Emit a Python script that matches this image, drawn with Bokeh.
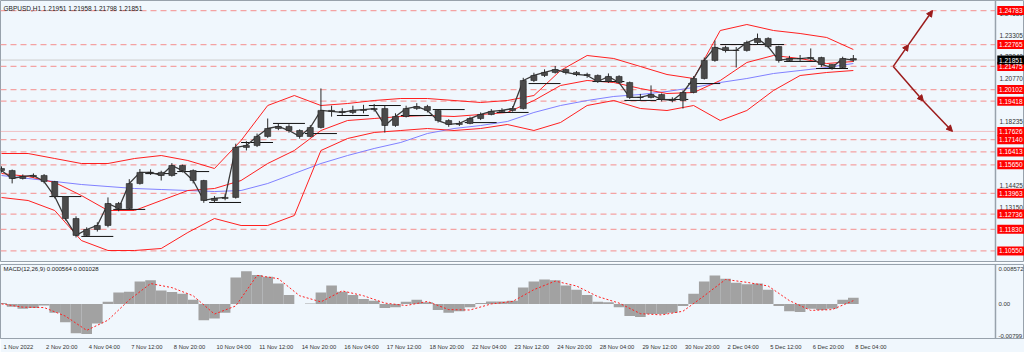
from bokeh.plotting import figure
from bokeh.layouts import column
from bokeh.models import Range1d, FixedTicker, Label, Arrow, NormalHead, Span
from bokeh.embed import file_html
from bokeh.resources import INLINE
from bokeh.core.properties import value

# ---------------- data (H1 bars grouped by 8, bar index 0 = 1 Nov 12:00) ----------------
first_open = 1.1543
close = [1.1531, 1.1484, 1.1496, 1.1502, 1.1466, 1.1377, 1.1247, 1.1147, 1.1182, 1.1206,
         1.1336, 1.1307, 1.1454, 1.1520, 1.1520, 1.1502, 1.1561, 1.1531, 1.1472, 1.1354,
         1.1366, 1.1372, 1.1668, 1.1679, 1.1733, 1.1780, 1.1792, 1.1768, 1.1733, 1.1786,
         1.1887, 1.1881, 1.1875, 1.1887, 1.1892, 1.1898, 1.1798, 1.1851, 1.1898, 1.1910,
         1.1887, 1.1827, 1.1804, 1.1810, 1.1839, 1.1863, 1.1881, 1.1887, 1.1898, 1.2064,
         1.2094, 1.2112, 1.2129, 1.2112, 1.2100, 1.2094, 1.2058, 1.2088, 1.2052, 1.1964,
         1.1964, 1.1981, 1.1952, 1.1946, 1.1993, 1.2076, 1.2183, 1.2260, 1.2242, 1.2242,
         1.2289, 1.2313, 1.2265, 1.2183, 1.2194, 1.2194, 1.2200, 1.2159, 1.2141, 1.2194,
         1.2185]
high = [1.1556, 1.1537, 1.1508, 1.1514, 1.1510, 1.1470, 1.1380, 1.1260, 1.1195, 1.1225,
        1.1372, 1.1345, 1.1480, 1.1540, 1.1538, 1.1530, 1.1575, 1.1566, 1.1538, 1.1476,
        1.1380, 1.1392, 1.1690, 1.1705, 1.1750, 1.1839, 1.1810, 1.1805, 1.1775, 1.1800,
        1.2017, 1.1915, 1.1900, 1.1915, 1.1920, 1.1925, 1.1915, 1.1870, 1.1915, 1.1930,
        1.1920, 1.1892, 1.1835, 1.1825, 1.1850, 1.1875, 1.1895, 1.1900, 1.1912, 1.2080,
        1.2110, 1.2130, 1.2150, 1.2135, 1.2120, 1.2110, 1.2100, 1.2106, 1.2095, 1.2058,
        1.1985, 1.2035, 1.1988, 1.1965, 1.2005, 1.2090, 1.2200, 1.2301, 1.2270, 1.2262,
        1.2300, 1.2342, 1.2320, 1.2270, 1.2210, 1.2215, 1.2254, 1.2205, 1.2160, 1.2205,
        1.2215]
low = [1.1519, 1.1455, 1.1478, 1.1490, 1.1455, 1.1366, 1.1235, 1.1135, 1.1140, 1.1170,
       1.1195, 1.1290, 1.1300, 1.1448, 1.1505, 1.1472, 1.1495, 1.1520, 1.1455, 1.1340,
       1.1340, 1.1355, 1.1365, 1.1650, 1.1670, 1.1725, 1.1770, 1.1755, 1.1720, 1.1728,
       1.1780, 1.1850, 1.1860, 1.1865, 1.1870, 1.1880, 1.1756, 1.1790, 1.1845, 1.1890,
       1.1875, 1.1815, 1.1790, 1.1795, 1.1805, 1.1830, 1.1858, 1.1875, 1.1880, 1.1892,
       1.2055, 1.2085, 1.2105, 1.2100, 1.2090, 1.2080, 1.2050, 1.2050, 1.2045, 1.1955,
       1.1950, 1.1958, 1.1940, 1.1935, 1.1898, 1.1988, 1.2070, 1.2175, 1.2230, 1.2141,
       1.2235, 1.2280, 1.2255, 1.2170, 1.2175, 1.2180, 1.2185, 1.2145, 1.2128, 1.2135,
       1.2175]

# Bollinger bands and slow moving average, read every 20 bars
band_upper = [1.16319, 1.16319, 1.16023, 1.15727, 1.15727, 1.16023, 1.16200, 1.15905, 1.15431, 1.17089,
              1.19161, 1.19753, 1.19161, 1.19279, 1.19457, 1.19575, 1.19575, 1.19457, 1.19339, 1.19457,
              1.19753, 1.21233, 1.22121, 1.21943, 1.21470, 1.20996, 1.20759, 1.23601, 1.23956, 1.23601,
              1.23423, 1.23187, 1.22476]
band_mid = [1.15135, 1.14958, 1.14603, 1.13833, 1.12945, 1.12945, 1.13537, 1.14129, 1.14247, 1.14721,
            1.15727, 1.16497, 1.17681, 1.18273, 1.18391, 1.18510, 1.18569, 1.18510, 1.18628, 1.18747,
            1.19457, 1.20345, 1.20641, 1.20523, 1.20167, 1.19871, 1.19931, 1.20641, 1.21707, 1.22121,
            1.21943, 1.21647, 1.21765]
band_lower = [1.13715, 1.13537, 1.12945, 1.11169, 1.10577, 1.10577, 1.10696, 1.11643, 1.12471, 1.12057,
              1.12057, 1.12649, 1.16497, 1.17207, 1.17563, 1.17681, 1.17799, 1.17681, 1.17799, 1.18036,
              1.17681, 1.18155, 1.19161, 1.19457, 1.18983, 1.18865, 1.19161, 1.18273, 1.18865, 1.20049,
              1.20937, 1.21115, 1.21233]
slow_ma = [1.15017, 1.14839, 1.14662, 1.14484, 1.14365, 1.14247, 1.14188, 1.14129, 1.14069, 1.14129,
           1.14543, 1.15135, 1.15727, 1.16201, 1.16617, 1.16973, 1.17504, 1.17799, 1.17977, 1.18214,
           1.18747, 1.19161, 1.19457, 1.19695, 1.19813, 1.19990, 1.20227, 1.20523, 1.20759, 1.21055,
           1.21233, 1.21411, 1.21647]

# previous-day levels (black steps): start bar, end bar, price
day_start = [36, 60, 84, 108, 132, 156, 180, 204, 228, 252, 276, 300, 324, 348, 372, 396, 444, 468, 492, 516, 540, 564, 588, 612]
day_end = [60, 84, 108, 132, 156, 180, 204, 228, 252, 276, 300, 324, 348, 372, 396, 420, 468, 492, 516, 540, 564, 588, 612, 636]
day_level = [1.1377, 1.1141, 1.1301, 1.1513, 1.1525, 1.1342, 1.1697, 1.1810, 1.1750, 1.1857,
             1.1916, 1.1857, 1.1892, 1.1815, 1.1875, 1.2046, 1.2058, 1.1946, 1.1952, 1.2046,
             1.2277, 1.2277, 1.2177, 1.2135]

# MACD (12,26,9): histogram every 8 bars, signal every 16 bars
macd_hist = [0.0002, -0.0007, -0.0012, -0.0010, -0.0004, -0.0022, -0.0045, -0.0072, -0.0074, -0.0048,
             0.0005, 0.0028, 0.0030, 0.0055, 0.0058, 0.0033, 0.0029, 0.0025, 0.0010, -0.0040,
             -0.0036, -0.0022, 0.0065, 0.0080, 0.0071, 0.0067, 0.0050, 0.0022, 0.0000, 0.0001,
             0.0028, 0.0045, 0.0030, 0.0022, 0.0012, 0.0008, -0.0010, -0.0008, 0.0005, 0.0010,
             0.0004, -0.0015, -0.0022, -0.0018, -0.0008, 0.0002, 0.0006, 0.0006, 0.0008, 0.0040,
             0.0055, 0.0060, 0.0058, 0.0045, 0.0035, 0.0022, 0.0005, 0.0004, -0.0008, -0.0030,
             -0.0032, -0.0025, -0.0025, -0.0022, -0.0005, 0.0025, 0.0055, 0.0070, 0.0062, 0.0052,
             0.0048, 0.0050, 0.0035, -0.0005, -0.0018, -0.0020, -0.0012, -0.0015, -0.0012, 0.0010,
             0.0015]
macd_signal = [0.0000, -0.0008, -0.0009, -0.0030, -0.0065, -0.0040, 0.0010, 0.0050, 0.0040, 0.0020,
               -0.0025, -0.0005, 0.0070, 0.0062, 0.0020, 0.0005, 0.0032, 0.0020, 0.0002, -0.0004,
               0.0006, -0.0014, -0.0015, 0.0000, 0.0006, 0.0035, 0.0056, 0.0044, 0.0018, 0.0002,
               -0.0024, -0.0027, -0.0018, 0.0020, 0.0060, 0.0053, 0.0044, 0.0008, -0.0016, -0.0014,
               0.0008]

# price levels drawn as horizontal lines with red price tags
dashed_levels = [1.24783, 1.22765, 1.21475, 1.20102, 1.19418, 1.17140, 1.16413, 1.15650, 1.13963, 1.12736, 1.11830, 1.10550]
dotted_levels = [1.17626]
bid_price = 1.21851
price_ticks = [1.24580, 1.23305, 1.22040, 1.20770, 1.18235, 1.14425, 1.13150]
macd_ticks = [0.008572, 0.0, -0.00799]
macd_tick_labels = ["0.008572", "0.00", "-0.00799"]

# projection arrows (bar, price)
arrow_vertex = (670, 1.21475)
arrow_up = [(681.5, 1.22765), (699.5, 1.24783)]
arrow_down = [(692.7, 1.19418), (714.5, 1.17626)]

date_ticks = [32 * i for i in range(21)]
date_labels = ["1 Nov 2022", "2 Nov 20:00", "4 Nov 04:00", "7 Nov 12:00", "8 Nov 20:00", "10 Nov 04:00",
               "11 Nov 12:00", "14 Nov 20:00", "16 Nov 04:00", "17 Nov 12:00", "18 Nov 20:00",
               "22 Nov 04:00", "23 Nov 12:00", "24 Nov 20:00", "28 Nov 04:00", "29 Nov 12:00",
               "30 Nov 20:00", "2 Dec 04:00", "5 Dec 12:00", "6 Dec 20:00", "8 Dec 04:00"]

header = "GBPUSD,H1  1.21951 1.21958 1.21798 1.21851"
macd_header = "MACD(12,26,9) 0.000564 0.001028"

# ---------------- styling ----------------
BG = "#f0f7fd"
AXC = "#98a2ac"
FONT = "Liberation Sans"
LVL = "#f4a3a3"
AR = "#9b1b1b"
X_START, AXIS_X, X_END = -0.75, 746.8, 768.6   # bar units at left edge, price-scale line, right edge
TAG_X = AXIS_X + 11.5                            # centre of the price tags (bar units)
PX_PER_BAR = 1.331
DATE_FS = 5.8

# date labels sit to the right of their tick (MetaTrader style): centre each label half its width right
_cw = {" ": 0.278, ":": 0.278, "N": 0.722, "D": 0.722, "o": 0.556, "v": 0.5, "e": 0.556, "c": 0.5}
def _label_w(s):
    return sum(_cw.get(ch, 0.556) for ch in s) * DATE_FS

date_pos = [t + (2 + _label_w(s) / 2) / PX_PER_BAR for t, s in zip(date_ticks, date_labels)]

bars = [8 * i for i in range(len(close))]
opens = [first_open] + close[:-1]
band_x = [20 * i for i in range(len(band_upper))]
sig_x = [16 * i for i in range(len(macd_signal))]

xr = Range1d(X_START, X_END)

p = figure(width=1024, height=262, x_range=xr, y_range=Range1d(1.09867, 1.25377),
           output_backend="svg", toolbar_location=None, x_axis_location=None,
           y_axis_location=None, min_border=0)
p.background_fill_color = BG
p.border_fill_color = BG
p.outline_line_color = AXC
p.xgrid.visible = False
p.ygrid.visible = False

p.segment(x0=[X_START] * len(dashed_levels), x1=[AXIS_X] * len(dashed_levels), y0=dashed_levels,
          y1=dashed_levels, line_color=LVL, line_width=1.2, line_dash="6 4")
p.segment(x0=[X_START] * len(dotted_levels), x1=[AXIS_X] * len(dotted_levels), y0=dotted_levels,
          y1=dotted_levels, line_color="#f08a8a", line_width=1, line_dash="1 1")
p.segment(x0=[X_START], x1=[AXIS_X], y0=[bid_price], y1=[bid_price], line_color="#cccccc", line_width=1)

p.line(band_x, slow_ma, line_color="#8080ff", line_width=1)
p.line(band_x, band_upper, line_color="#ff2020", line_width=1)
p.line(band_x, band_mid, line_color="#ff2020", line_width=1)
p.line(band_x, band_lower, line_color="#ff2020", line_width=1)

p.segment(x0=day_start, y0=day_level, x1=day_end, y1=day_level, line_color="#111111", line_width=1)

p.segment(x0=bars, y0=high, x1=bars, y1=low, line_color="#2a2a2a", line_width=1)
p.line(bars, close, line_color="#3a3a3a", line_width=1.3)
p.vbar(x=bars, width=4.5, top=opens, bottom=close, fill_color="#4a4a4a", line_color="#222222", line_width=0.6)

head = dict(size=6, fill_color=AR, line_color=AR)
for pts in ([arrow_vertex] + arrow_up, [arrow_vertex] + arrow_down):
    for a, b in zip(pts[:-1], pts[1:]):
        p.add_layout(Arrow(end=NormalHead(**head), x_start=a[0], y_start=a[1], x_end=b[0], y_end=b[1],
                           line_color=AR, line_width=1.5))

# price scale (right side)
p.add_layout(Span(location=AXIS_X, dimension="height", line_color=AXC, line_width=1.5))
p.text(x=[AXIS_X] * len(price_ticks), y=price_ticks, text=[f"{t:.5f}" for t in price_ticks],
       x_offset=4, text_font=value(FONT), text_font_size=value("6.5px"), text_color="#333333",
       text_baseline="middle", text_align="left")
tag_levels = dashed_levels + dotted_levels
p.rect(x=[TAG_X] * len(tag_levels), y=tag_levels, width=27, height=9, width_units="screen",
       height_units="screen", fill_color="#ff0000", line_color=None)
p.rect(x=[TAG_X], y=[bid_price], width=27, height=9, width_units="screen",
       height_units="screen", fill_color="#000000", line_color=None)
tag_all = tag_levels + [bid_price]
p.text(x=[TAG_X] * len(tag_all), y=tag_all, text=[f"{t:.5f}" for t in tag_all],
       text_font=value(FONT), text_font_size=value("6.5px"), text_color="#ffffff",
       text_baseline="middle", text_align="center")
p.add_layout(Label(x=3, y=258, x_units="screen", y_units="screen", text=header, text_font=FONT,
                   text_font_size="6.5px", text_color="#222222", text_baseline="top"))

# ---------------- MACD panel ----------------
m = figure(width=1024, height=90, x_range=xr, y_range=Range1d(-0.0085, 0.00968),
           output_backend="svg", toolbar_location=None, y_axis_location=None,
           min_border_left=0, min_border_top=2, min_border_bottom=11, min_border_right=0)
m.background_fill_color = BG
m.border_fill_color = BG
m.outline_line_color = AXC
m.xgrid.visible = False
m.ygrid.visible = False
m.vbar(x=bars, width=8, top=macd_hist, bottom=0, fill_color="#a2a2a2", line_color=None)
m.line(sig_x, macd_signal, line_color="#ff2020", line_width=1, line_dash="2 2")
m.add_layout(Label(x=3, y=73, x_units="screen", y_units="screen", text=macd_header, text_font=FONT,
                   text_font_size="6px", text_color="#222222", text_baseline="top"))
m.add_layout(Span(location=AXIS_X, dimension="height", line_color=AXC, line_width=1.5))
m.text(x=[AXIS_X] * len(macd_ticks), y=macd_ticks, text=macd_tick_labels, x_offset=3,
       text_font=value(FONT), text_font_size=value("6px"), text_color="#333333",
       text_baseline="middle", text_align="left")

mx = m.xaxis[0]
mx.ticker = FixedTicker(ticks=date_pos)
mx.major_label_overrides = {t: s for t, s in zip(date_pos, date_labels)}
mx.axis_line_color = AXC
mx.major_tick_line_color = None
mx.major_tick_out = 2
mx.major_tick_in = 0
mx.minor_tick_line_color = None
mx.major_label_standoff = 3
mx.major_label_text_font = FONT
mx.major_label_text_font_size = f"{DATE_FS}px"
mx.major_label_text_color = "#333333"

layout = column(p, m, spacing=0)
open("out.html", "w").write(file_html(layout, INLINE))
